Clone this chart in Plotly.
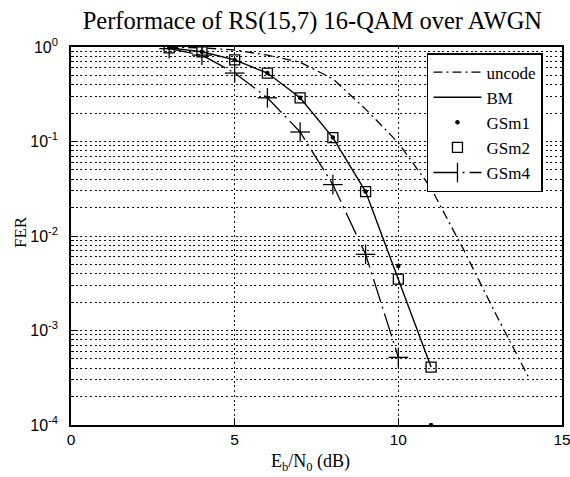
import plotly.graph_objects as go

# Data
snr_uncode = [3, 4, 5, 6, 7, 8, 9, 10, 11, 12, 13, 14]
fer_uncode = [0.995, 0.98, 0.93, 0.82, 0.69, 0.46, 0.22, 0.097, 0.032, 0.0071, 0.00144, 0.00031]

snr_bm = [3, 4, 5, 6, 7, 8, 9, 10, 11]
fer_bm = [0.98, 0.89, 0.73, 0.53, 0.29, 0.11, 0.0295, 0.0035, 0.00041]

snr_gsm1 = [3, 4, 5, 6, 7, 8, 9, 10, 11]
fer_gsm1 = [0.98, 0.89, 0.73, 0.53, 0.29, 0.11, 0.0295, 0.0048, 0.0001]

snr_gsm2 = [3, 4, 5, 6, 7, 8, 9, 10, 11]
fer_gsm2 = [0.98, 0.89, 0.73, 0.53, 0.29, 0.11, 0.0295, 0.0035, 0.00041]

snr_gsm4 = [3, 4, 5, 6, 7, 8, 9, 10]
fer_gsm4 = [0.96, 0.82, 0.53, 0.29, 0.126, 0.035, 0.0064, 0.00052]

y_tickvals = [1e-4, 1e-3, 1e-2, 1e-1, 1]
y_ticktext = ["10<sup>-4</sup>", "10<sup>-3</sup>", "10<sup>-2</sup>", "10<sup>-1</sup>", "10<sup>0</sup>"]
x_tickvals = [0, 5, 10, 15]

serif = "Liberation Serif"
sans = "Liberation Sans"

fig = go.Figure()
fig.add_trace(go.Scatter(x=snr_uncode, y=fer_uncode, mode="lines", name="uncode",
                         line=dict(color="black", width=1.3, dash="9px,4px,2px,4px")))
fig.add_trace(go.Scatter(x=snr_bm, y=fer_bm, mode="lines", name="BM",
                         line=dict(color="black", width=1.4)))
fig.add_trace(go.Scatter(x=snr_gsm1, y=fer_gsm1, mode="markers", name="GSm1",
                         marker=dict(symbol="circle", size=4.5, color="black"), cliponaxis=False))
fig.add_trace(go.Scatter(x=snr_gsm2, y=fer_gsm2, mode="markers", name="GSm2",
                         marker=dict(symbol="square-open", size=10, color="black",
                                     line=dict(width=1.3, color="black"))))
fig.add_trace(go.Scatter(x=snr_gsm4, y=fer_gsm4, mode="lines+markers", name="GSm4",
                         line=dict(color="black", width=1.3, dash="24px,5px,2px,5px"),
                         marker=dict(symbol="line-ns-open", size=14, color="black",
                                     line=dict(width=1.3, color="black"))))
# crosses: horizontal component of the "+" marker
fig.add_trace(go.Scatter(x=snr_gsm4, y=fer_gsm4, mode="markers", showlegend=False,
                         marker=dict(symbol="line-ew-open", size=14, color="black",
                                     line=dict(width=1.3, color="black"))))

grid = dict(gridcolor="#111111", griddash="2px,2.7px", gridwidth=1.3)

fig.update_xaxes(range=[0, 15], tickvals=x_tickvals, showline=True, linecolor="black",
                 linewidth=1.6, mirror=True, ticks="inside", ticklen=5, tickcolor="black",
                 showgrid=True, zeroline=False, automargin=False,
                 ticklabeloverflow="allow",
                 tickfont=dict(family=sans, size=15.5, color="black"),
                 **grid)
fig.update_yaxes(type="log", range=[-4, 0], tickvals=y_tickvals, ticktext=y_ticktext,
                 showline=True, linecolor="black", linewidth=1.6, mirror=True,
                 ticks="inside", ticklen=5, tickcolor="black", showgrid=True,
                 automargin=False, ticklabelstandoff=8,
                 tickfont=dict(family=sans, size=16, color="black"),
                 minor=dict(dtick="D1", showgrid=True, gridcolor="#111111",
                            griddash="2px,2.7px", gridwidth=1.3, ticks="inside", ticklen=3,
                            tickcolor="black"),
                 **grid)

fig.update_layout(
    width=570, height=477,
    margin=dict(l=71, r=8, t=47, b=52, autoexpand=False),
    paper_bgcolor="white", plot_bgcolor="white",
    title=dict(text="Performace of RS(15,7) 16-QAM over AWGN", x=0.548, xanchor="center",
               y=1 - 20 / 477, yanchor="middle",
               font=dict(family=serif, size=24.5, color="black")),
    legend=dict(x=0.725, y=0.984, xanchor="left", yanchor="top",
                bgcolor="white", bordercolor="black", borderwidth=1.5,
                font=dict(family=serif, size=17, color="black"),
                tracegroupgap=0, itemwidth=48),
    showlegend=True,
    annotations=[
        dict(text="E<sub>b</sub>/N<sub>0</sub> (dB)", xref="paper", yref="paper",
             x=(310 - 71) / 491, y=-(462 - 425) / 378, xanchor="center", yanchor="middle",
             showarrow=False, font=dict(family=serif, size=18, color="black")),
        dict(text="FER", xref="paper", yref="paper", textangle=-90,
             x=-(71 - 20) / 491, y=(425 - 232) / 378, xanchor="center", yanchor="middle",
             showarrow=False, font=dict(family=serif, size=17, color="black")),
    ],
)

fig.write_html("out.html", config={"displayModeBar": False},
               post_script="document.body.style.margin='0';document.body.style.overflow='hidden';")
